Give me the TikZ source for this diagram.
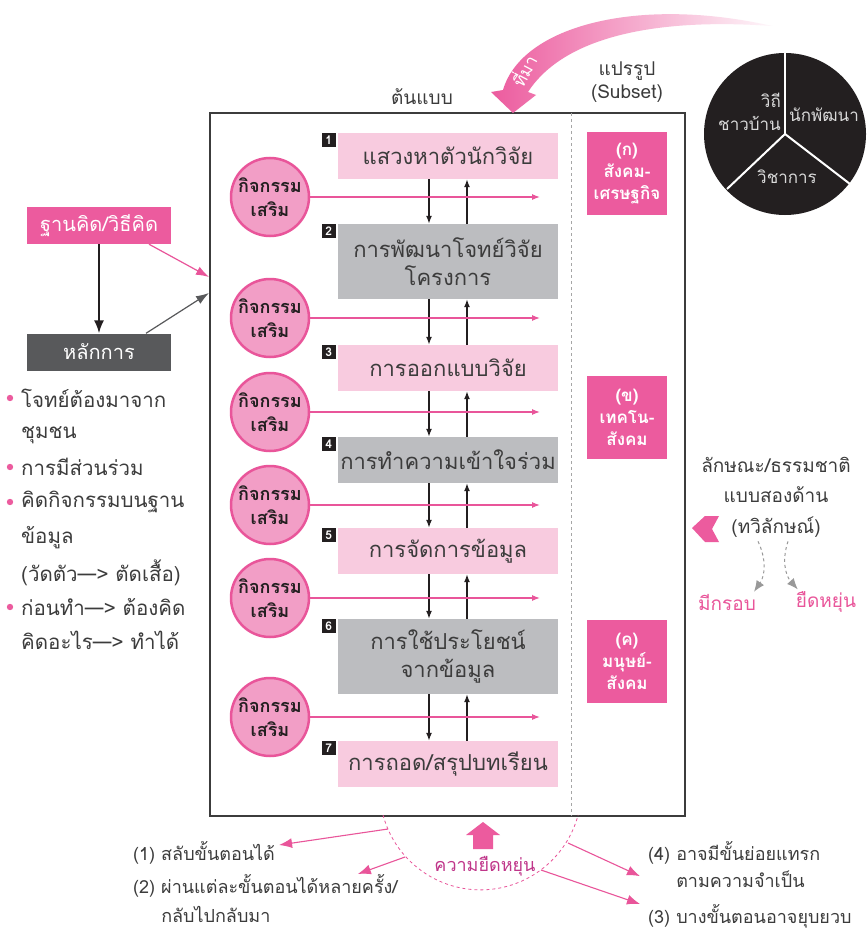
\documentclass[tikz,border=0pt]{standalone}
\usepackage{fontspec}
\setmainfont[Script=Thai]{Loma}
\usetikzlibrary{arrows.meta}
\definecolor{hotpink}{HTML}{EC5B9E}
\definecolor{pinkline}{HTML}{E9559A}
\definecolor{lightpink}{HTML}{F8CBDF}
\definecolor{circfill}{HTML}{F29EC6}
\definecolor{stepgray}{HTML}{BCBDC0}
\definecolor{boxgray}{HTML}{58595B}
\definecolor{textgray}{HTML}{3C3C3C}
\definecolor{ink}{HTML}{231F20}
\definecolor{magtext}{HTML}{C0368A}
\newcommand{\fsz}[1]{\fontsize{#1}{#1}\selectfont}
\tikzset{
  frame/.style={draw=textgray, line width=1.4pt},
  lbl/.style={text=textgray, font=\fontsize{19}{23}\selectfont, align=center, inner sep=0pt},
  stepbox/.style={fill=lightpink, minimum width=220pt, minimum height=46pt, inner sep=0pt,
    text=textgray, align=center, font=\fontsize{22}{28}\selectfont},
  graystep/.style={stepbox, fill=stepgray},
  numbox/.style={fill=ink, text=white, minimum size=14pt, inner sep=0pt, font=\bfseries\fsz{12}},
  actcircle/.style={circle, draw=pinkline, line width=2.5pt, fill=circfill, minimum size=78pt,
    inner sep=0pt, align=center, text=ink, font=\bfseries\fontsize{18}{24}\selectfont},
  sidebox/.style={fill=hotpink, text=white, minimum width=80pt, minimum height=83pt, inner sep=0pt,
    align=center, font=\bfseries\fontsize{17}{22}\selectfont},
  leftbox/.style={text=white, minimum width=144pt, minimum height=37pt, inner sep=0pt,
    font=\fontsize{20}{20}\selectfont},
  pinkarrow/.style={draw=pinkline, line width=1.2pt, -{Latex[length=8pt,width=6pt]}},
  bigpink/.style={draw=pinkline, line width=1.1pt, -{Latex[length=13pt,width=10pt]}},
  steparrow/.style={draw=ink, line width=1.5pt, -{Latex[length=8pt,width=6pt]}},
  pietext/.style={text=black!15, font=\fontsize{17}{23}\selectfont, inner sep=0pt},
  fat/.style={fill=hotpink, draw=none},
}
\begin{document}
\begin{tikzpicture}[x=1pt, y=-1pt, >=latex]
\useasboundingbox[fill=white] (0,0) rectangle (867,931);

% main frame
\draw[frame] (210,113) rectangle (685,816);
\draw[dashed, draw=black!35, line width=.8pt] (571,113) -- (571,816);
\node[lbl] (tb) at (422,97) {ต้นแบบ};
\node[lbl] (sb) at (627,82) {แปรรูป\\(Subset)};

% steps
\node[stepbox] (s1) at (448,156) {แสวงหาตัวนักวิจัย};
\node[graystep, minimum height=75pt] (s2) at (448,261.5) {การพัฒนาโจทย์วิจัย\\โครงการ};
\node[stepbox] (s3) at (448,368) {การออกแบบวิจัย};
\node[graystep] (s4) at (448,460) {การทำความเข้าใจร่วม};
\node[stepbox] (s5) at (448,551) {การจัดการข้อมูล};
\node[graystep, minimum height=75pt] (s6) at (448,656.5) {การใช้ประโยชน์\\จากข้อมูล};
\node[stepbox] (s7) at (448,764) {การถอด/สรุปบทเรียน};
\foreach \i in {1,...,7}
  \node[numbox, anchor=north east] (n\i) at ([xshift=-2pt]s\i.north west) {\i};
\foreach \a/\b in {s1/s2,s2/s3,s3/s4,s4/s5,s5/s6,s6/s7} {
  \draw[steparrow] ([xshift=-19pt]\a.south) -- ([xshift=-19pt]\b.north);
  \draw[steparrow] ([xshift=19pt]\b.north) -- ([xshift=19pt]\a.south);
}

% extra activities
\coordinate (ra) at (540,0);
\foreach \i/\y in {1/197,2/318,3/412,4/505,5/598,6/717} {
  \node[actcircle] (a\i) at (270,\y) {กิจกรรม\\เสริม};
  \draw[pinkarrow] (a\i.east) -- (a\i.east -| ra);
}

% subsets
\node[sidebox] (k1) at (627,173.5) {(ก)\\สังคม-\\เศรษฐกิจ};
\node[sidebox] (k2) at (627,417.5) {(ข)\\เทคโน-\\สังคม};
\node[sidebox] (k3) at (627,661) {(ค)\\มนุษย์-\\สังคม};

% left side
\node[leftbox, fill=hotpink] (fk) at (99,225.5) {ฐานคิด/วิธีคิด};
\node[leftbox, fill=boxgray] (hk) at (99,352) {หลักการ};
\draw[steparrow, line width=1.8pt, -{Latex[length=13pt,width=10pt]}] (fk) -- (hk);
\coordinate (in1) at (209,277);
\coordinate (in2) at (209,293);
\draw[pinkline, line width=1.2pt, -{Latex[length=13pt,width=9pt]}] ([xshift=50pt]fk.south) -- (in1);
\draw[boxgray, line width=1.2pt, -{Latex[length=13pt,width=9pt]}] ([xshift=47pt]hk.north) -- (in2);
\foreach \y/\t in {398/{โจทย์ต้องมาจาก},435/{ชุมชน},467/{การมีส่วนร่วม},502/{คิดกิจกรรมบนฐาน},
    538/{ข้อมูล},573/{(วัดตัว—> ตัดเสื้อ)},607/{ก่อนทำ—> ต้องคิด},640/{คิดอะไร—> ทำได้}}
  \node[lbl, anchor=west, font=\fsz{20.5}] at (21,\y) {\t};
\foreach \y in {398,467,502,607}
  \fill[hotpink] (10,\y) circle[radius=3.2];

% source arrow
\shade[left color=hotpink, right color=hotpink!5]
  (503,90) .. controls (522,25) and (640,-4) .. (772,26)
  .. controls (660,18) and (565,35) .. (528,92) -- (536,95) -- (513,113) -- (491,92) -- cycle;
\node[text=white, rotate=62, font=\fsz{17}, inner sep=0pt] (tm) at (523,70) {ที่มา};

% three parties
\coordinate (pc) at (785,134);
\fill[ink] (pc) circle[radius=81];
\draw[white, line width=2pt] (pc) -- (785,53);
\draw[white, line width=2pt] (pc) -- (727,189);
\draw[white, line width=2pt] (pc) -- (850,184);
\node[pietext, anchor=east, align=right] (p1) at (781,112) {วิถี\\ชาวบ้าน};
\node[pietext, anchor=west] (p2) at (789,115) {นักพัฒนา};
\node[pietext] (p3) at (787,177) {วิชาการ};

% duality
\node[lbl, font=\fontsize{19}{30.5}\selectfont] (dual) at (776,497) {ลักษณะ/ธรรมชาติ\\แบบสองด้าน\\(ทวิลักษณ์)};
\fill[fat] (692,528) -- (705,516) -- (719,516) -- (712,529) -- (719,542) -- (705,542) -- cycle;
\node[lbl, text=pinkline] (m1) at (727,602) {มีกรอบ};
\node[lbl, text=pinkline] (m2) at (826,602) {ยืดหยุ่น};
\draw[dashed, draw=black!40, line width=1pt, -{Latex[length=11pt,width=9pt]}]
  ([xshift=-18pt, yshift=-4pt]dual.south) to[bend left=30] ([xshift=-2pt, yshift=2pt]m1.north east);
\draw[dashed, draw=black!40, line width=1pt, -{Latex[length=11pt,width=9pt]}]
  ([xshift=12pt, yshift=-4pt]dual.south) to[bend right=30] ([xshift=2pt, yshift=2pt]m2.north west);

% flexibility
\draw[dashed, draw=pinkline, line width=.8pt] (383,815) arc[start angle=165, end angle=15, radius=101];
\fill[fat] (483,822) -- (500,835) -- (493,835) -- (493,849) -- (473,849) -- (473,835) -- (466,835) -- cycle;
\node[lbl, text=magtext, font=\fsz{18}] (fx) at (485,866) {ความยืดหยุ่น};
\node[lbl, anchor=west, font=\fsz{18}] (t1) at (133,853) {(1) สลับขั้นตอนได้};
\node[lbl, anchor=north west, align=left, font=\fontsize{18}{29}\selectfont] (t2) at (133,874)
  {(2) ผ่านแต่ละขั้นตอนได้หลายครั้ง/\\\phantom{(2) }กลับไปกลับมา};
\node[lbl, anchor=north west, align=left, font=\fontsize{18}{27}\selectfont] (t4) at (648,841)
  {(4) อาจมีขั้นย่อยแทรก\\\phantom{(4) }ตามความจำเป็น};
\node[lbl, anchor=west, font=\fsz{18}] (t3) at (648,916) {(3) บางขั้นตอนอาจยุบยวบ};
\coordinate (f1) at (388,829);
\coordinate (f2) at (405,857);
\coordinate (f4) at (568,843);
\coordinate (f3) at (541,870);
\draw[bigpink] (f1) -- ([xshift=4pt, yshift=8pt]t1.east);
\draw[bigpink] (f2) -- ([xshift=-40pt]t2.north east);
\draw[bigpink] (f4) -- ([xshift=-8pt, yshift=-10pt]t4.west);
\draw[bigpink] (f3) -- ([xshift=-8pt, yshift=12pt]t3.west);
\end{tikzpicture}
\end{document}
